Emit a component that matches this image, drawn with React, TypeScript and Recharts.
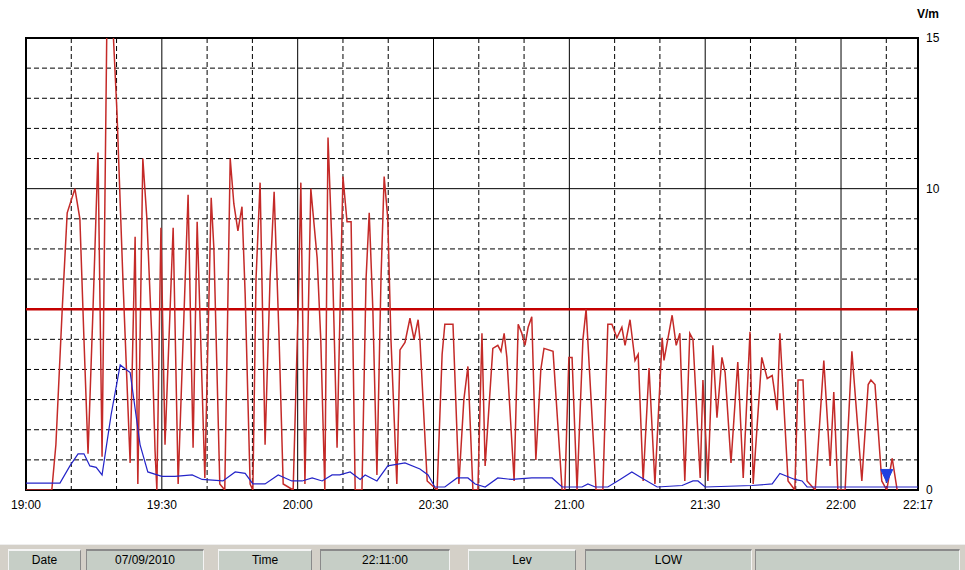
import {
  ComposedChart,
  Line,
  XAxis,
  YAxis,
  CartesianGrid,
  ReferenceLine,
  ReferenceArea,
  ReferenceDot
} from "recharts"

// minutes after 19:00, V/m
const fieldReadings: [number, number][] = [
  [0, 0], [5.7, 0], [6.6, 1.5], [8.0, 6], [9.1, 9.2], [10.8, 10], [11.9, 9.0], [12.8, 5], [13.7, 1.2],
  [14.8, 6], [15.9, 11.2], [16.8, 1.1], [17.9, 16], [19.0, 16], [20.1, 12.5], [21.4, 7], [23.0, 0.9],
  [24.1, 8.4], [24.7, 0.2], [25.8, 11.0], [26.7, 9], [27.8, 5], [28.5, 1.3], [28.9, 0],
  [29.8, 8.7], [30.7, 1.5], [32.5, 8.7], [33.6, 0.2], [35.8, 9.8], [36.9, 1.4], [37.8, 8.9], [39.5, 0.4],
  [40.9, 9.7], [41.5, 8], [42.8, 0.2], [43.9, 0], [45.1, 11], [45.9, 9.5], [46.8, 8.6], [47.7, 9.4],
  [48.4, 6.5], [49.5, 0.2], [50.1, 0], [50.8, 7], [51.7, 10.2], [52.8, 1.5], [53.9, 7], [54.8, 9.9],
  [55.9, 5], [56.8, 0.2], [59.0, 0], [60.1, 6], [60.7, 10.2], [61.6, 0.2], [62.9, 10], [64.3, 7.7],
  [65.1, 5], [66.0, 0], [66.7, 11.7], [67.6, 8], [68.7, 1.4], [70.0, 10.4], [70.9, 8.9], [71.8, 8.9],
  [72.7, 0], [74.2, 0], [75.1, 7], [75.8, 9.2], [76.6, 6], [77.5, 0.5], [78.4, 7], [79.1, 10.4],
  [79.9, 9], [80.6, 5], [81.9, 0.2], [82.6, 4.65], [83.7, 4.9], [84.8, 5.7], [85.7, 5.0], [86.6, 5.65],
  [87.0, 5.0], [88.6, 0.3], [90.8, 0], [91.9, 4.5], [92.5, 5.5], [94.3, 5.5], [95.6, 0.2], [96.7, 3],
  [97.6, 4.1], [98.7, 0], [99.8, 0], [100.7, 5.2], [101.4, 0.8], [103.1, 4.7], [104.2, 4.8], [104.9, 4.6],
  [105.6, 5.2], [106.2, 4.4], [107.8, 0.3], [108.7, 5.5], [109.5, 5.2], [110.2, 4.8], [110.9, 5.4],
  [111.7, 5.75], [112.6, 1.0], [113.7, 4.0], [114.4, 4.7], [116.4, 4.6], [118.4, 0], [119.0, 0],
  [119.9, 4.4], [120.6, 4.4], [121.7, 0], [123.0, 5], [123.7, 6.0], [124.8, 3], [125.9, 0], [127.4, 0],
  [128.5, 5.5], [129.4, 5.5], [130.5, 5.05], [131.6, 5.4], [132.3, 4.8], [133.4, 5.65], [134.5, 4.3],
  [135.2, 4.5], [136.3, 0.3], [137.6, 4.05], [138.9, 0.2], [140.5, 5.05], [140.9, 4.3], [142.7, 5.8],
  [143.6, 4.8], [144.4, 5.2], [145.5, 0.3], [146.6, 5.2], [147.3, 5.0], [148.9, 0.4], [149.5, 3.65],
  [150.6, 0.3], [151.7, 4.8], [152.6, 2.4], [153.7, 4.4], [154.4, 3.9], [155.7, 0.9], [157.2, 4.25],
  [158.4, 0.4], [159.9, 5.25], [160.6, 0.2], [162.5, 4.4], [163.7, 3.7], [164.8, 3.8], [165.9, 2.65],
  [166.5, 5.2], [168.3, 0.3], [169.8, 0], [170.5, 3.65], [171.6, 3.65], [172.5, 0.3], [174.3, 0],
  [176.2, 4.3], [177.6, 0.8], [178.4, 3.25], [179.3, 0], [180.9, 0], [182.4, 4.6], [184.6, 0.3],
  [186.0, 3.5], [186.6, 3.65], [187.5, 3.5], [189.0, 0.3], [190.1, 0], [191.3, 1.05], [192.4, 0]
]

const avgReadings: [number, number][] = [
  [0, 0.23], [7.5, 0.23], [9.7, 0.8], [11.5, 1.2], [12.8, 1.2], [14.1, 0.8], [15.5, 0.75], [16.8, 0.5],
  [18.8, 2.5], [20.8, 4.15], [22.1, 4.0], [23.0, 3.9], [25.2, 1.5], [26.9, 0.6], [30.0, 0.45],
  [32.9, 0.45], [36.7, 0.5], [38.9, 0.35], [43.5, 0.3], [46.2, 0.6], [48.4, 0.55], [50.1, 0.2],
  [52.8, 0.2], [55.7, 0.5], [58.7, 0.3], [61.0, 0.3], [63.2, 0.4], [65.4, 0.3], [67.6, 0.5], [69.3, 0.5],
  [71.6, 0.6], [73.8, 0.35], [74.9, 0.5], [77.5, 0.3], [79.9, 0.8], [83.7, 0.9], [87.0, 0.7], [88.8, 0.5],
  [90.3, 0.1], [92.5, 0.1], [95.2, 0.4], [97.6, 0.4], [99.2, 0.2], [101.4, 0.1], [104.2, 0.4],
  [107.3, 0.35], [111.7, 0.4], [116.2, 0.4], [118.4, 0.1], [122.8, 0.1], [124.1, 0.2], [125.7, 0.1],
  [128.5, 0.1], [131.2, 0.35], [133.8, 0.6], [136.0, 0.4], [139.4, 0.1], [144.9, 0.15], [147.3, 0.3],
  [148.4, 0.3], [150.0, 0.1], [160.3, 0.15], [164.8, 0.2], [166.5, 0.55], [169.8, 0.35], [171.4, 0.3],
  [172.5, 0.1], [197, 0.1]
]

const threshold = 6
const cursorMark = { m: 190.1, v: 0.45 }

const timeTicks = [0, 30, 60, 90, 120, 150, 180, 197]
const timeLabels = ["19:00", "19:30", "20:00", "20:30", "21:00", "21:30", "22:00", "22:17"]
const majorMinutes = [30, 60, 90, 120, 150, 180]
const minorMinutes = [10, 20, 40, 50, 70, 80, 100, 110, 130, 140, 160, 170, 190]
const levelTicks = [0, 10, 15]
const majorLevels = [10]
const minorLevels = [1, 2, 3, 4, 5, 6, 7, 8, 9, 11, 12, 13, 14]

const statusCells = [
  { text: "Date", left: 8, width: 73, kind: "label" },
  { text: "07/09/2010", left: 86, width: 118, kind: "value" },
  { text: "Time", left: 218, width: 94, kind: "label" },
  { text: "22:11:00", left: 320, width: 130, kind: "value" },
  { text: "Lev", left: 468, width: 108, kind: "label" },
  { text: "LOW", left: 585, width: 167, kind: "value" },
  { text: "", left: 755, width: 205, kind: "value" }
]

const toPoints = (rows: [number, number][]) => rows.map(([m, v]) => ({ m, v }))

const fmtTime = (m: number) => timeLabels[timeTicks.indexOf(m)] ?? ""

const DownTriangle = (props: any) => {
  const { cx, cy } = props
  return (
    <polygon
      points={`${cx - 6},${cy - 7} ${cx + 6},${cy - 7} ${cx},${cy + 6}`}
      fill="#1f3fe0"
      stroke="#1f3fe0"
    />
  )
}

export default function App() {

  return (
    <div
      style={{
        position: "relative",
        width: 965,
        height: 570,
        background: "#fff",
        fontFamily: "'Liberation Sans', Arial, sans-serif",
        overflow: "hidden"
      }}
    >
      <style>{"body{margin:0}"}</style>

      <div
        style={{
          position: "absolute",
          left: 917,
          top: 7,
          fontSize: 12,
          fontWeight: "bold"
        }}
      >
        V/m
      </div>

      <ComposedChart
        width={965}
        height={540}
        margin={{ top: 38, right: 0, left: 26, bottom: 30 }}
      >

        <CartesianGrid
          stroke="#000"
          strokeDasharray="5 3"
          horizontalValues={minorLevels}
          verticalValues={minorMinutes}
        />

        <CartesianGrid
          stroke="#000"
          horizontalValues={majorLevels}
          verticalValues={majorMinutes}
        />

        <XAxis
          dataKey="m"
          type="number"
          domain={[0, 197]}
          ticks={timeTicks}
          tickFormatter={fmtTime}
          interval={0}
          height={20}
          tickLine={false}
          axisLine={false}
          tickMargin={4}
          tick={{ fill: "#000", fontSize: 12 }}
        />

        <YAxis
          orientation="right"
          type="number"
          domain={[0, 15]}
          allowDataOverflow
          ticks={levelTicks}
          width={47}
          tickLine={false}
          axisLine={false}
          tick={{ fill: "#000", fontSize: 12 }}
        />

        <ReferenceLine
          y={threshold}
          stroke="#c40000"
          strokeWidth={2.5}
        />

        <Line
          data={toPoints(fieldReadings)}
          dataKey="v"
          type="linear"
          stroke="#c42a28"
          strokeWidth={1.5}
          dot={false}
          isAnimationActive={false}
        />

        <Line
          data={toPoints(avgReadings)}
          dataKey="v"
          type="linear"
          stroke="#2424c8"
          strokeWidth={1.2}
          dot={false}
          isAnimationActive={false}
        />

        <ReferenceArea
          x1={0}
          x2={197}
          y1={0}
          y2={15}
          fill="none"
          fillOpacity={0}
          stroke="#000"
          strokeWidth={2}
        />

        <ReferenceDot
          x={cursorMark.m}
          y={cursorMark.v}
          shape={DownTriangle}
        />

      </ComposedChart>

      <div
        style={{
          position: "absolute",
          left: 0,
          top: 544,
          width: 965,
          height: 26,
          background: "#d4d0c8",
          borderTop: "1px solid #eee"
        }}
      >
        {statusCells.map((c, i) => (
          <div
            key={i}
            style={{
              position: "absolute",
              left: c.left,
              top: 4,
              width: c.width,
              height: 22,
              boxSizing: "border-box",
              background: "#c6cec6",
              borderTop: c.kind === "label" ? "2px solid #f4f4f4" : "2px solid #8a8a8a",
              borderLeft: c.kind === "label" ? "1px solid #f4f4f4" : "1px solid #8a8a8a",
              borderRight: c.kind === "label" ? "1px solid #8a8a8a" : "1px solid #f4f4f4",
              fontSize: 12,
              lineHeight: "18px",
              textAlign: "center",
              color: "#000"
            }}
          >
            {c.text}
          </div>
        ))}
      </div>

    </div>
  )
}
